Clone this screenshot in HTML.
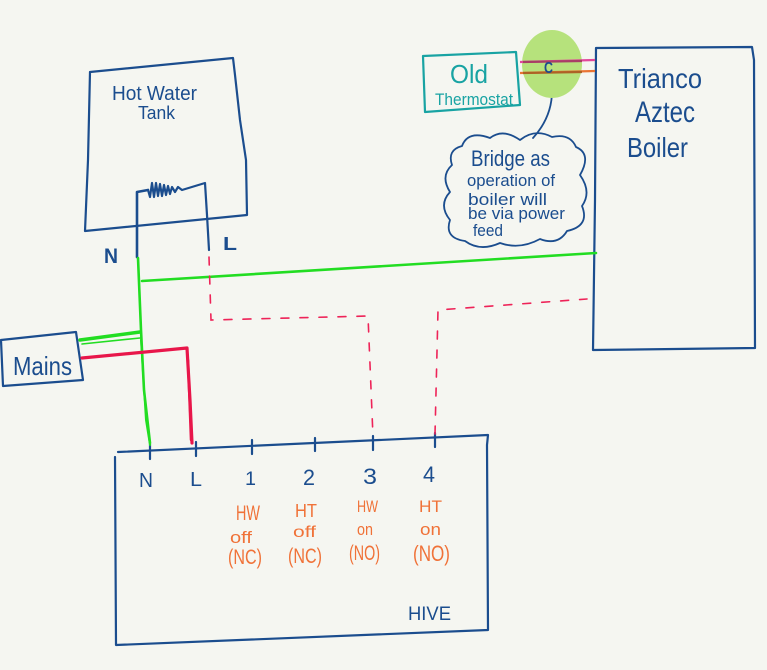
<!DOCTYPE html>
<html><head><meta charset="utf-8"><style>
html,body{margin:0;padding:0;background:#f5f6f1;}
svg{display:block;}
text{font-family:"Liberation Sans",sans-serif;}
</style></head><body>
<svg width="767" height="670" viewBox="0 0 767 670" xmlns="http://www.w3.org/2000/svg">
<rect width="767" height="670" fill="#f5f6f1"/>
<g fill="none" stroke="#1b4d8e" stroke-width="2.2" stroke-linecap="round" stroke-linejoin="round">
  <!-- Hot water tank -->
  <path d="M90,72 L233,58 L235,75 L240,120 L246,160 L247,215 L85,231 L88,160 L90,72"/>
  <!-- element -->
  <path d="M137,257 L137,192 L148,190" stroke-width="2.6"/>
  <path d="M148,190 L150,197 L152,183 L154,197 L156,183 L158,196 L160,184 L162,196 L164,185 L166,195 L168,186 L170,194 L172,187 L175,192 L178,187 L182,190 L205,183 L207,215 L209,250"/>
  <!-- Mains box -->
  <path d="M1,340 L76,332 L83,380 L3,386 Z"/>
  <!-- Boiler -->
  <path d="M596,48 L752,47 L754,60 L755,348 L593,350 L595,200 Z"/>
  <!-- Hive -->
  <path d="M118,452 L488,435 L487,445 L488,630 L116,645 L115,457"/>
  <!-- ticks -->
  <path d="M150,444 L150,459 M196,442 L196,456 M252,440 L252,454 M315,438 L315,451 M373,436 L373,450 M435,433 L435,447"/>
  <!-- cloud -->
  <path d="M462,146 Q468,130 490,138 Q503,128 520,140 Q535,128 552,137 Q570,133 576,147 Q592,154 580,175 Q592,192 582,206 Q590,226 567,231 Q558,246 540,239 Q520,250 500,243 Q480,252 465,241 Q444,238 450,220 Q438,205 450,192 Q440,176 452,165 Q447,150 462,146 Z" stroke-width="1.8"/>
  <path d="M552,88 Q553,116 533,138" stroke-width="1.8"/>
</g>
<!-- thermostat -->
<path d="M423,56 L516,52 L520,105 L425,112 Z" fill="none" stroke="#18a3a3" stroke-width="2.2" stroke-linejoin="round"/>
<ellipse cx="552" cy="64" rx="30" ry="34" fill="#b6e27c"/>
<line x1="520" y1="62" x2="595" y2="60" stroke="#e2479b" stroke-width="2.2"/>
<line x1="523" y1="62" x2="582" y2="61" stroke="#a83f66" stroke-width="2.2"/>
<line x1="520" y1="73" x2="595" y2="71" stroke="#ea7433" stroke-width="2.2"/>
<line x1="523" y1="73" x2="582" y2="72" stroke="#ad6226" stroke-width="2.2"/>
<!-- green wires -->
<g fill="none" stroke="#22dd22" stroke-linecap="round" stroke-linejoin="round">
  <path d="M142,281 L596,253" stroke-width="2.6"/>
  <path d="M138,258 L141,330 L144,390 L150,443" stroke-width="2.6"/>
  <path d="M141,340 L146,420 L150,445" stroke-width="2"/>
  <path d="M80,340 L140,332" stroke-width="3.5"/>
  <path d="M82,344 L140,338" stroke-width="1.6"/>
</g>
<!-- red wires -->
<g fill="none" stroke="#e8164a" stroke-linecap="round" stroke-linejoin="round">
  <path d="M82,358 L187,348 L190,400 L192,443" stroke-width="3.2"/>
  <path d="M188,360 L191,440" stroke-width="2.5"/>
</g>
<!-- dashed -->
<g fill="none" stroke="#ee2358" stroke-width="1.6" stroke-dasharray="8,11" stroke-linecap="round">
  <path d="M209,257 L211,320 L368,316 L373,437"/>
  <path d="M435,434 L438,310 L587,299"/>
</g>
<!-- text -->
<g fill="#1b4d8e">
  <text x="112" y="100" font-size="20" textLength="85" lengthAdjust="spacingAndGlyphs">Hot Water</text>
  <text x="138" y="119" font-size="18" textLength="37" lengthAdjust="spacingAndGlyphs">Tank</text>
  <text x="104" y="263" font-size="21" font-weight="bold" textLength="14" lengthAdjust="spacingAndGlyphs">N</text>
  <text x="223" y="250" font-size="18" font-weight="bold" textLength="14" lengthAdjust="spacingAndGlyphs">L</text>
  <text x="13" y="375" font-size="26" textLength="59" lengthAdjust="spacingAndGlyphs">Mains</text>
  <text x="618" y="88" font-size="28" textLength="84" lengthAdjust="spacingAndGlyphs">Trianco</text>
  <text x="635" y="122" font-size="30" textLength="60" lengthAdjust="spacingAndGlyphs">Aztec</text>
  <text x="627" y="157" font-size="28" textLength="61" lengthAdjust="spacingAndGlyphs">Boiler</text>
  <text x="544" y="73" font-size="16" font-weight="bold" textLength="9" lengthAdjust="spacingAndGlyphs">C</text>
  <text x="471" y="166" font-size="22" textLength="79" lengthAdjust="spacingAndGlyphs">Bridge as</text>
  <text x="467" y="186" font-size="17" textLength="88" lengthAdjust="spacingAndGlyphs">operation of</text>
  <text x="468" y="205" font-size="17" textLength="79" lengthAdjust="spacingAndGlyphs">boiler will</text>
  <text x="468" y="219" font-size="17" textLength="97" lengthAdjust="spacingAndGlyphs">be via power</text>
  <text x="473" y="236" font-size="17" textLength="30" lengthAdjust="spacingAndGlyphs">feed</text>
  <text x="139" y="487" font-size="20" textLength="14" lengthAdjust="spacingAndGlyphs">N</text>
  <text x="190" y="486" font-size="20" textLength="12" lengthAdjust="spacingAndGlyphs">L</text>
  <text x="245" y="485" font-size="19" textLength="11" lengthAdjust="spacingAndGlyphs">1</text>
  <text x="303" y="485" font-size="22" textLength="12" lengthAdjust="spacingAndGlyphs">2</text>
  <text x="363" y="484" font-size="22" textLength="14" lengthAdjust="spacingAndGlyphs">3</text>
  <text x="423" y="482" font-size="22" textLength="12" lengthAdjust="spacingAndGlyphs">4</text>
  <text x="408" y="620" font-size="19" textLength="43" lengthAdjust="spacingAndGlyphs">HIVE</text>
</g>
<g fill="#18a3a3">
  <text x="450" y="83" font-size="26" textLength="38" lengthAdjust="spacingAndGlyphs">Old</text>
  <text x="435" y="105" font-size="17" textLength="78" lengthAdjust="spacingAndGlyphs">Thermostat</text>
</g>
<g fill="#f07238">
  <text x="236" y="520" font-size="21" textLength="24" lengthAdjust="spacingAndGlyphs">HW</text>
  <text x="230" y="543" font-size="17" textLength="22" lengthAdjust="spacingAndGlyphs">off</text>
  <text x="228" y="564" font-size="21" textLength="34" lengthAdjust="spacingAndGlyphs">(NC)</text>
  <text x="295" y="517" font-size="18" textLength="22" lengthAdjust="spacingAndGlyphs">HT</text>
  <text x="293" y="537" font-size="16" textLength="23" lengthAdjust="spacingAndGlyphs">off</text>
  <text x="288" y="563" font-size="21" textLength="34" lengthAdjust="spacingAndGlyphs">(NC)</text>
  <text x="357" y="512" font-size="17" textLength="21" lengthAdjust="spacingAndGlyphs">HW</text>
  <text x="357" y="535" font-size="17" textLength="16" lengthAdjust="spacingAndGlyphs">on</text>
  <text x="349" y="560" font-size="21" textLength="31" lengthAdjust="spacingAndGlyphs">(NO)</text>
  <text x="419" y="512" font-size="17" textLength="23" lengthAdjust="spacingAndGlyphs">HT</text>
  <text x="420" y="535" font-size="17" textLength="21" lengthAdjust="spacingAndGlyphs">on</text>
  <text x="413" y="561" font-size="22" textLength="37" lengthAdjust="spacingAndGlyphs">(NO)</text>
</g>
</svg>
</body></html>
